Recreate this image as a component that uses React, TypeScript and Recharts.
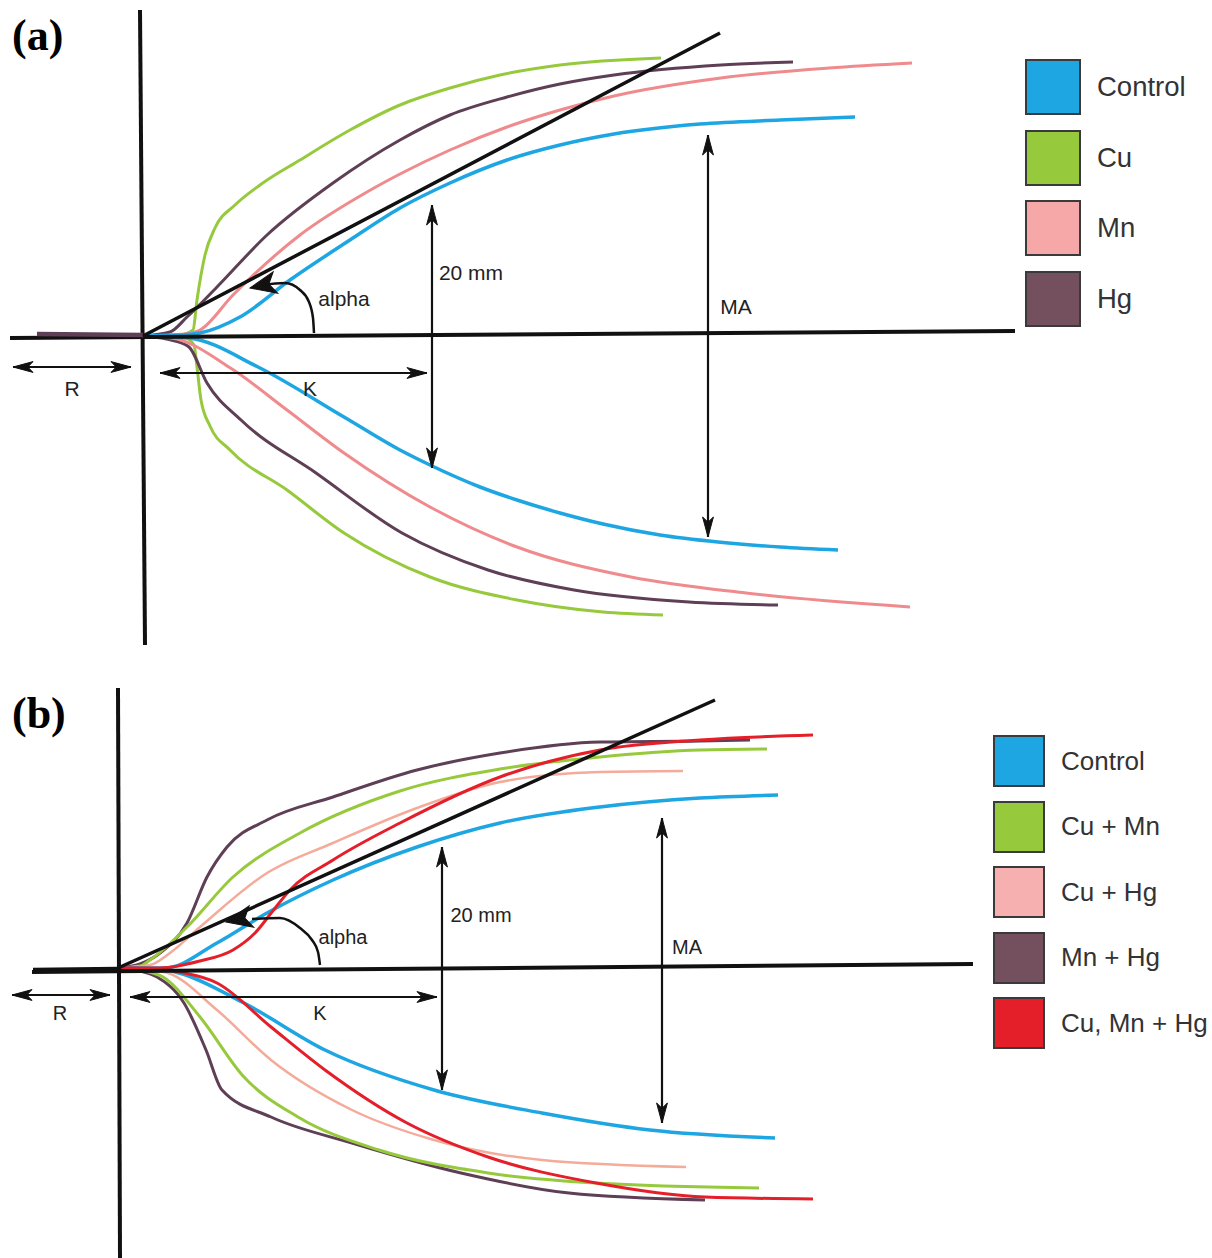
import React from 'react'
import { ComposedChart, Line, XAxis, YAxis, ReferenceDot } from 'recharts'

type Pt = [number, number]

// ---- panel (a): single metals. points are [time, amplitude] ----
const controlUpA: Pt[] = [[143, 0], [180, 1], [200, 3], [240, 19], [290, 56], [350, 96], [400, 128], [450, 153], [507, 176], [560, 191], [614, 202], [700, 212], [780, 216], [855, 219]]
const controlLoA: Pt[] = [[143, 0], [170, -1], [189, -2], [258, -31], [344, -81], [400, -114], [430, -129], [480, -151], [517, -164], [560, -177], [603, -188], [660, -199], [718, -206], [780, -211], [838, -214]]
const cuUpA: Pt[] = [[143, 0], [180, 1], [193, 6], [197, 36], [205, 81], [215, 108], [235, 131], [260, 151], [300, 176], [350, 206], [400, 231], [450, 248], [500, 261], [560, 271], [661, 278]]
const cuLoA: Pt[] = [[143, 0], [185, -2], [194, -9], [197, -31], [201, -64], [210, -90], [230, -114], [287, -154], [344, -197], [430, -241], [517, -264], [603, -276], [663, -279]]
const mnUpA: Pt[] = [[143, 0], [185, 2], [200, 6], [233, 41], [300, 101], [367, 144], [400, 162], [450, 186], [507, 209], [560, 226], [614, 240], [721, 258], [829, 268], [912, 273]]
const mnLoA: Pt[] = [[143, 0], [172, -2], [232, -33], [287, -74], [344, -117], [430, -171], [517, -211], [631, -241], [746, -257], [910, -271]]
const hgUpA: Pt[] = [[143, 0], [170, 4], [187, 19], [217, 49], [267, 101], [333, 153], [400, 196], [450, 221], [507, 239], [560, 252], [614, 261], [721, 271], [793, 274]]
const hgLoA: Pt[] = [[143, 0], [175, -5], [189, -11], [207, -47], [241, -84], [316, -137], [402, -197], [488, -234], [574, -254], [689, -266], [778, -269]]
const lagA: Pt[] = [[37, 2], [143, 1]]
const tangentA: Pt[] = [[143, 0], [720, 303]]
const alphaArcA: Pt[] = [[262, 51], [285, 53], [300, 46], [309, 34], [313, 18], [314, 3]]

// ---- panel (b): metal combinations ----
const controlUpB: Pt[] = [[118, 0], [165, 0], [217, 25], [267, 55], [333, 88], [417, 121], [500, 145], [600, 161], [700, 170], [778, 173]]
const controlLoB: Pt[] = [[118, 0], [160, -1], [179, -5], [244, -35], [325, -82], [434, -122], [542, -145], [650, -162], [775, -170]]
const cuMnUpB: Pt[] = [[118, 0], [140, 2], [150, 8], [187, 41], [233, 91], [300, 135], [400, 177], [500, 199], [600, 211], [700, 218], [767, 219]]
const cuMnLoB: Pt[] = [[118, 0], [145, -3], [163, -9], [200, -49], [244, -109], [298, -149], [379, -182], [488, -205], [596, -215], [759, -220]]
const cuHgUpB: Pt[] = [[118, 0], [150, 3], [170, 15], [200, 41], [267, 95], [333, 125], [417, 160], [500, 186], [600, 196], [683, 197]]
const cuHgLoB: Pt[] = [[118, 0], [150, -2], [168, -5], [217, -42], [271, -92], [352, -142], [434, -172], [542, -192], [686, -199]]
const mnHgUpB: Pt[] = [[118, 0], [140, 4], [160, 15], [187, 45], [207, 91], [227, 121], [267, 148], [333, 171], [417, 198], [500, 215], [600, 226], [700, 227], [750, 228]]
const mnHgLoB: Pt[] = [[118, 0], [140, -3], [157, -9], [184, -35], [206, -82], [222, -122], [271, -149], [352, -175], [461, -205], [569, -225], [705, -232]]
const allUpB: Pt[] = [[118, 0], [160, 0], [200, 7], [233, 18], [255, 35], [272, 56], [290, 78], [333, 108], [400, 145], [500, 191], [600, 218], [700, 228], [813, 233]]
const allLoB: Pt[] = [[118, 0], [160, -1], [179, -4], [217, -15], [271, -59], [325, -102], [407, -155], [488, -189], [596, -215], [705, -229], [813, -231]]
const lagB: Pt[] = [[33, -2], [118, -1]]
const tangentB: Pt[] = [[118, 0], [715, 268]]
const alphaArcB: Pt[] = [[252, 49], [280, 50], [300, 40], [312, 28], [318, 16], [320, 3]]

const legendA = ['Control', 'Cu', 'Mn', 'Hg']
const legendB = ['Control', 'Cu + Mn', 'Cu + Hg', 'Mn + Hg', 'Cu, Mn + Hg']

const BLUE = '#1ea6e3'
const GREEN = '#97c93d'
const PINK = '#ef8a8d'
const PURPLE = '#5e3f55'
const SALMON = '#f4ab9a'
const RED = '#e41f2a'
const INK = '#111'
const FONT = '"Liberation Sans", Arial, sans-serif'

interface Trace { name: string; color: string; width: number; points: Pt[] }
interface Arrow { a: Pt; b: Pt }
interface Tag { text: string; at: Pt }

interface PanelProps {
  top: number
  height: number
  yDomain: [number, number]
  traces: Trace[]
  lag: Pt[]
  lagColor: string
  axes: Pt[][]
  tangent: Pt[]
  arc: Pt[]
  arcTip: Pt
  arrows: Arrow[]
  tags: Tag[]
  tagSize: number
}

const rows = (pts: Pt[]) => pts.map(([t, amp]) => ({ t, amp }))

const head = (angle: number, size = 20, ratio = 0.27) => (p: any) => (
  <path
    d={`M0,0 L${-size},${-size * ratio} L${-size * 0.74},0 L${-size},${size * ratio} Z`}
    transform={`translate(${p.cx},${p.cy}) rotate(${angle})`}
    fill={INK}
    stroke={INK}
    strokeWidth={1}
  />
)

const tagShape = (text: string, size: number) => (p: any) => (
  <text x={p.cx} y={p.cy} textAnchor="middle" dominantBaseline="central" fontFamily={FONT} fontSize={size} fill="#222">
    {text}
  </text>
)

const straight = (key: string, pts: Pt[], width: number, color = INK) => (
  <Line key={key} name={key} data={rows(pts)} dataKey="amp" type="linear" stroke={color} strokeWidth={width} dot={false} activeDot={false} isAnimationActive={false} />
)

function Panel({ top, height, yDomain, traces, lag, lagColor, axes, tangent, arc, arcTip, arrows, tags, tagSize }: PanelProps) {
  return (
    <div style={{ position: 'absolute', left: 0, top }}>
      <ComposedChart width={1212} height={height} margin={{ top: 0, right: 0, bottom: 0, left: 0 }}>
        <XAxis type="number" dataKey="t" domain={[0, 1212]} hide allowDataOverflow />
        <YAxis type="number" domain={yDomain} hide allowDataOverflow />
        {traces.map((tr) => (
          <Line
            key={tr.name}
            name={tr.name}
            data={rows(tr.points)}
            dataKey="amp"
            type="monotone"
            stroke={tr.color}
            strokeWidth={tr.width}
            dot={false}
            activeDot={false}
            isAnimationActive={false}
          />
        ))}
        {axes.map((seg, i) => straight('axis' + i, seg, 4))}
        {straight('lag', lag, 4.5, lagColor)}
        {straight('tangent', tangent, 3.5)}
        <Line name="alpha" data={rows(arc)} dataKey="amp" type="monotone" stroke={INK} strokeWidth={2.5} dot={false} activeDot={false} isAnimationActive={false} />
        <ReferenceDot x={arcTip[0]} y={arcTip[1]} r={1} ifOverflow="visible" shape={head(168, 26, 0.42)} />
        {arrows.map((ar, i) => straight('shaft' + i, [ar.a, ar.b], 2.2))}
        {arrows.map((ar, i) => {
          const vertical = ar.a[0] === ar.b[0]
          return (
            <React.Fragment key={'ar' + i}>
              <ReferenceDot x={ar.a[0]} y={ar.a[1]} r={1} ifOverflow="visible" shape={head(vertical ? -90 : 180)} />
              <ReferenceDot x={ar.b[0]} y={ar.b[1]} r={1} ifOverflow="visible" shape={head(vertical ? 90 : 0)} />
            </React.Fragment>
          )
        })}
        {tags.map((tg) => (
          <ReferenceDot key={tg.text} x={tg.at[0]} y={tg.at[1]} r={1} ifOverflow="visible" shape={tagShape(tg.text, tagSize)} />
        ))}
      </ComposedChart>
    </div>
  )
}

function Legend({ left, top, step, size, font, labels, colors }: { left: number; top: number; step: number; size: number; font: number; labels: string[]; colors: string[] }) {
  return (
    <div style={{ position: 'absolute', left, top }}>
      {labels.map((lb, i) => (
        <div key={lb} style={{ position: 'absolute', left: 0, top: i * step, display: 'flex', alignItems: 'center', whiteSpace: 'nowrap' }}>
          <div style={{ width: size, height: size, background: colors[i], border: '2px solid #3a3a3a', boxSizing: 'border-box' }} />
          <span style={{ marginLeft: 16, fontFamily: FONT, fontSize: font, color: '#333' }}>{lb}</span>
        </div>
      ))}
    </div>
  )
}

const panelLabel = (text: string, top: number) => (
  <div style={{ position: 'absolute', left: 12, top, fontFamily: '"Liberation Serif", "Times New Roman", serif', fontWeight: 'bold', fontSize: 44, lineHeight: 1 }}>
    {text}
  </div>
)

export default function App() {
  const tracesA: Trace[] = [
    { name: 'Cu lo', color: GREEN, width: 3, points: cuLoA },
    { name: 'Cu up', color: GREEN, width: 3, points: cuUpA },
    { name: 'Hg lo', color: PURPLE, width: 3, points: hgLoA },
    { name: 'Hg up', color: PURPLE, width: 3, points: hgUpA },
    { name: 'Mn lo', color: PINK, width: 3, points: mnLoA },
    { name: 'Mn up', color: PINK, width: 3, points: mnUpA },
    { name: 'Control lo', color: BLUE, width: 3.5, points: controlLoA },
    { name: 'Control up', color: BLUE, width: 3.5, points: controlUpA },
  ]
  const tracesB: Trace[] = [
    { name: 'MnHg lo', color: PURPLE, width: 3, points: mnHgLoB },
    { name: 'MnHg up', color: PURPLE, width: 3, points: mnHgUpB },
    { name: 'CuMn lo', color: GREEN, width: 3, points: cuMnLoB },
    { name: 'CuMn up', color: GREEN, width: 3, points: cuMnUpB },
    { name: 'CuHg lo', color: SALMON, width: 2.5, points: cuHgLoB },
    { name: 'CuHg up', color: SALMON, width: 2.5, points: cuHgUpB },
    { name: 'Control lo', color: BLUE, width: 3.5, points: controlLoB },
    { name: 'Control up', color: BLUE, width: 3.5, points: controlUpB },
    { name: 'All lo', color: RED, width: 3, points: allLoB },
    { name: 'All up', color: RED, width: 3, points: allUpB },
  ]

  return (
    <div style={{ position: 'absolute', left: 0, top: 0, width: 1212, height: 1258, background: '#fff', overflow: 'hidden' }}>
      <Panel
        top={0}
        height={650}
        yDomain={[-314, 336]}
        traces={tracesA}
        lag={lagA}
        lagColor={PURPLE}
        axes={[[[140, 326], [145, -309]], [[10, -2], [1015, 5]]]}
        tangent={tangentA}
        arc={alphaArcA}
        arcTip={[250, 48]}
        arrows={[
          { a: [13, -31], b: [131, -31] },
          { a: [160, -37], b: [427, -37] },
          { a: [432, 131], b: [432, -132] },
          { a: [708, 201], b: [708, -201] },
        ]}
        tags={[
          { text: 'R', at: [72, -52] },
          { text: 'K', at: [310, -52] },
          { text: '20 mm', at: [471, 64] },
          { text: 'MA', at: [736, 30] },
          { text: 'alpha', at: [344, 38] },
        ]}
        tagSize={21}
      />
      <Panel
        top={655}
        height={603}
        yDomain={[-290, 313]}
        traces={tracesB}
        lag={lagB}
        lagColor={INK}
        axes={[[[118, 280], [120, -290]], [[32, -4], [973, 4]]]}
        tangent={tangentB}
        arc={alphaArcB}
        arcTip={[226, 46]}
        arrows={[
          { a: [12, -27], b: [110, -27] },
          { a: [130, -29], b: [437, -29] },
          { a: [442, 121], b: [442, -122] },
          { a: [662, 150], b: [662, -155] },
        ]}
        tags={[
          { text: 'R', at: [60, -45] },
          { text: 'K', at: [320, -45] },
          { text: '20 mm', at: [481, 53] },
          { text: 'MA', at: [687, 21] },
          { text: 'alpha', at: [343, 31] },
        ]}
        tagSize={20}
      />
      {panelLabel('(a)', 14)}
      {panelLabel('(b)', 692)}
      <Legend left={1025} top={59} step={70.5} size={56} font={27.5} labels={legendA} colors={[BLUE, GREEN, '#f6a8a8', '#74505f']} />
      <Legend left={993} top={735} step={65.5} size={52} font={26} labels={legendB} colors={[BLUE, GREEN, '#f7b0b0', '#74505f', RED]} />
    </div>
  )
}
